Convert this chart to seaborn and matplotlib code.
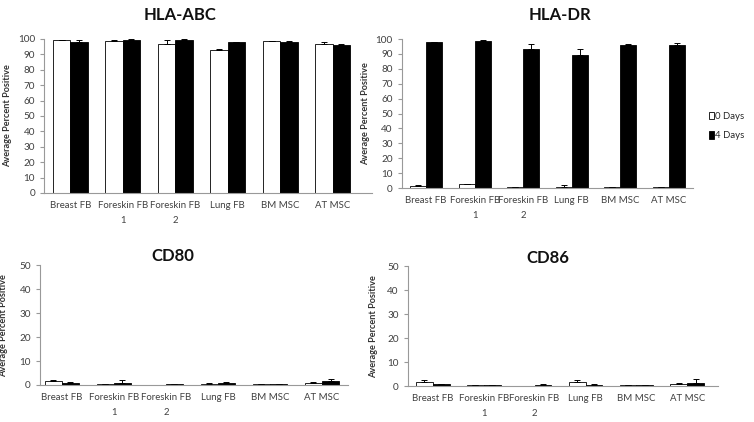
import pandas as pd
import seaborn as sns
import matplotlib.pyplot as plt
from matplotlib.patches import Patch

# data
cells = ["Breast FB", "Foreskin FB\n1", "Foreskin FB\n2", "Lung FB", "BM MSC", "AT MSC"]
times = ["0 Days", "4 Days"]

abc_0 = [99.0, 98.5, 97.0, 93.0, 98.5, 97.0]
abc_0_err = [0.3, 0.8, 2.5, 0.5, 0.3, 1.0]
abc_4 = [98.0, 99.5, 99.5, 98.0, 98.0, 96.0]
abc_4_err = [1.5, 0.5, 0.5, 0.3, 0.6, 0.7]

dr_0 = [1.5, 2.5, 0.5, 1.0, 0.5, 0.5]
dr_0_err = [0.5, 0.5, 0.1, 1.0, 0.2, 0.2]
dr_4 = [98.0, 98.5, 93.5, 89.5, 96.0, 96.0]
dr_4_err = [0.3, 0.8, 3.5, 4.0, 0.5, 1.2]

cd80_0 = [1.5, 0.5, 0.0, 0.5, 0.5, 0.8]
cd80_0_err = [0.5, 0.1, 0.0, 0.2, 0.1, 0.3]
cd80_4 = [1.0, 1.0, 0.3, 0.8, 0.4, 1.8]
cd80_4_err = [0.3, 1.2, 0.1, 0.3, 0.1, 0.8]

cd86_0 = [1.8, 0.4, 0.0, 1.5, 0.4, 1.0]
cd86_0_err = [0.5, 0.1, 0.0, 0.8, 0.1, 0.3]
cd86_4 = [0.8, 0.4, 0.6, 0.6, 0.4, 1.2]
cd86_4_err = [0.2, 0.1, 0.4, 0.3, 0.1, 1.6]

sns.set_style("white")
plt.rcParams["font.family"] = ["Lato", "DejaVu Sans"]

fig = plt.figure(figsize=(7.54, 4.22), dpi=100)

panels = [
    # title, values, errs, ymax, axes rect, xlim, title pos, ylabel x
    ("HLA-ABC", (abc_0, abc_4), (abc_0_err, abc_4_err), 100,
     [0.0584, 0.5427, 0.435, 0.365], (-0.5, 5.75), (180, 15), -0.098),
    ("HLA-DR", (dr_0, dr_4), (dr_0_err, dr_4_err), 100,
     [0.533, 0.5545, 0.386, 0.353], (-0.5, 5.5), (560, 15), -0.11),
    ("CD80", (cd80_0, cd80_4), (cd80_0_err, cd80_4_err), 50,
     [0.053, 0.0877, 0.4085, 0.284], (-0.42, 5.5), (173, 256), -0.104),
    ("CD86", (cd86_0, cd86_4), (cd86_0_err, cd86_4_err), 50,
     [0.541, 0.0853, 0.411, 0.284], (-0.49, 5.6), (548, 258), -0.097),
]

for title, vals, errs, ymax, rect, xlim, tpos, ylx in panels:
    ax = fig.add_axes(rect)
    df = pd.DataFrame({
        "Cell": cells * 2,
        "Time": [times[0]] * 6 + [times[1]] * 6,
        "Value": list(vals[0]) + list(vals[1]),
    })
    sns.barplot(data=df, x="Cell", y="Value", hue="Time", order=cells, hue_order=times,
                palette=["white", "black"], edgecolor="black", linewidth=0.6,
                width=0.66, gap=0, errorbar=None, legend=False, ax=ax)

    # upward-only error bars like the spreadsheet original
    for cont, err in zip(ax.containers, errs):
        xs = [p.get_x() + p.get_width() / 2 for p in cont.patches]
        hs = [p.get_height() for p in cont.patches]
        ax.errorbar(xs, hs, yerr=[[0] * len(err), err], fmt="none",
                    ecolor="black", elinewidth=0.7, capsize=2, capthick=0.7)

    ax.set_ylim(0, ymax)
    ax.set_yticks(range(0, ymax + 1, 10))
    ax.set_xlim(*xlim)
    ax.set_xlabel("")
    ax.set_ylabel("Average Percent Positive", fontsize=6.6, fontweight="bold", color="#333333")
    ax.yaxis.set_label_coords(ylx, 0.5)

    ax.set_xticks(range(len(cells)))
    ax.set_xticklabels(cells, fontsize=6.9, color="#404040", linespacing=1.75)
    ax.set_xticks([i + 0.5 for i in range(len(cells))], minor=True)
    ax.tick_params(axis="x", which="major", length=0, pad=6)
    ax.tick_params(axis="x", which="minor", length=3, color="#999999", direction="out")
    ax.tick_params(axis="y", labelsize=7.2, labelcolor="#404040", length=3,
                   color="#999999", direction="out", left=True)

    sns.despine(ax=ax)
    for side in ["left", "bottom"]:
        ax.spines[side].set_color("#999999")
        ax.spines[side].set_linewidth(0.8)

    fig.text(tpos[0] / 754, 1 - tpos[1] / 422, title, ha="center", va="center",
             fontsize=12, fontweight="bold", color="#111111")

handles = [Patch(facecolor="white", edgecolor="black", linewidth=0.6),
           Patch(facecolor="black", edgecolor="black", linewidth=0.6)]
fig.legend(handles, times, loc="center left", bbox_to_anchor=(703 / 754, 1 - 126 / 422),
           frameon=False, fontsize=6.9, handlelength=0.55, handleheight=0.8,
           handletextpad=0.15, labelspacing=1.1, borderaxespad=0.2)

fig.savefig("out.png", dpi=100)
